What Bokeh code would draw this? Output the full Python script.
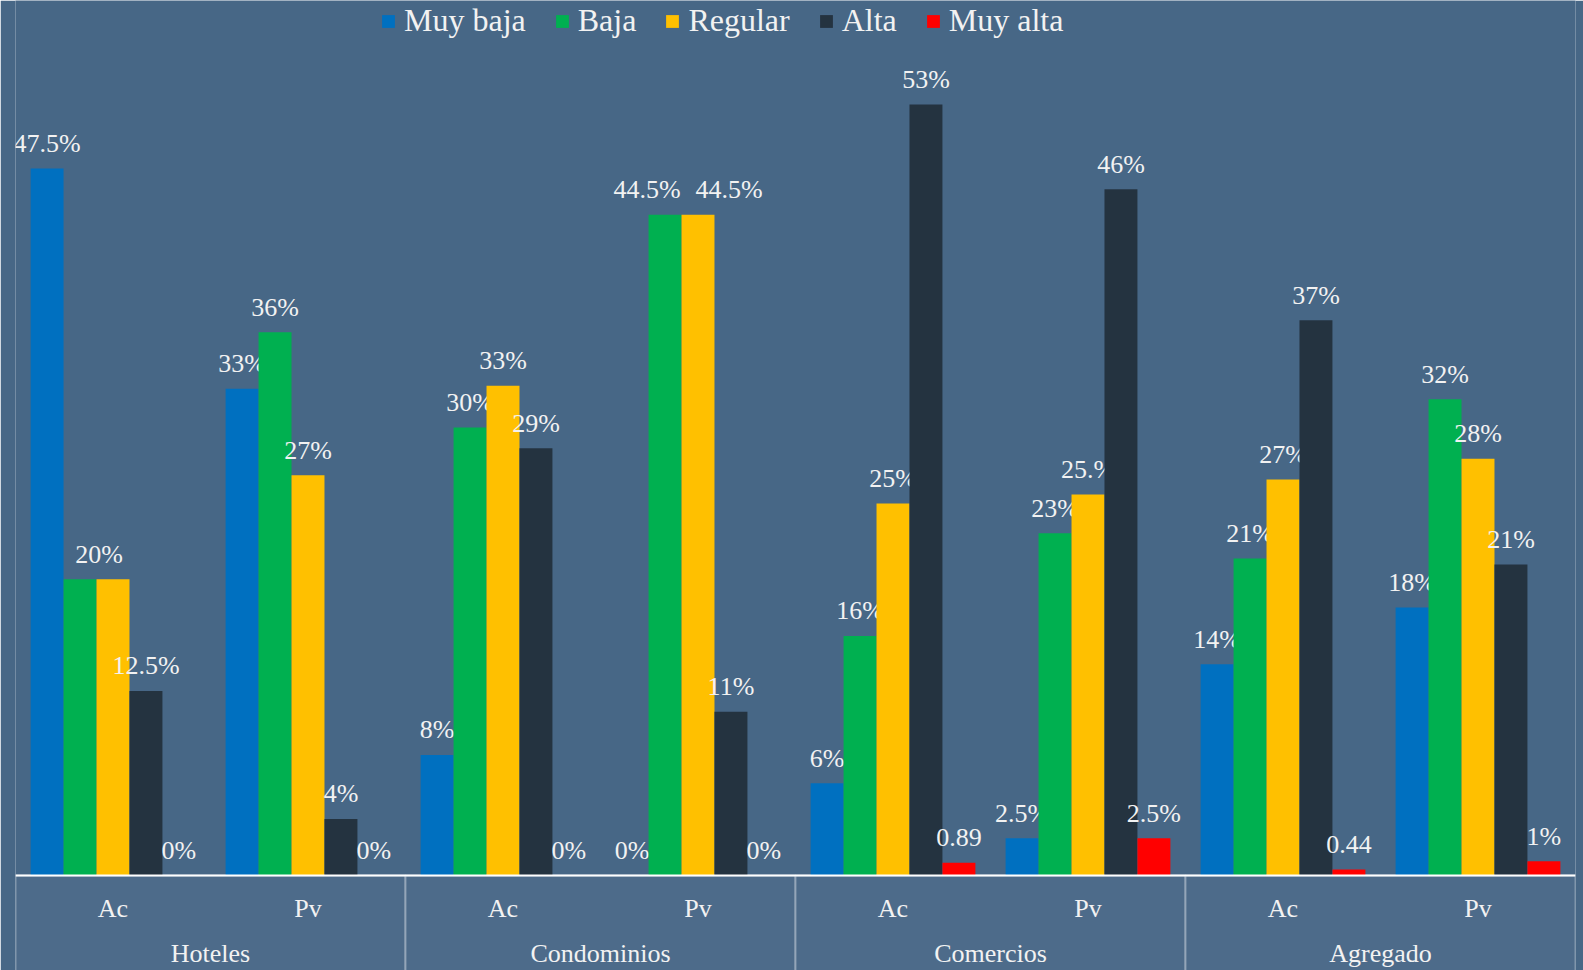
from bokeh.plotting import figure
from bokeh.models import FactorRange, Range1d, ColumnDataSource, BoxAnnotation
from bokeh.transform import dodge
from bokeh.core.properties import value
from bokeh.embed import file_html
from bokeh.resources import INLINE

groups = ["Hoteles", "Condominios", "Comercios", "Agregado"]
subs = ["Ac", "Pv"]
series = ["Muy baja", "Baja", "Regular", "Alta", "Muy alta"]
colors = ["#0070C0", "#00B050", "#FFC000", "#243340", "#FF0000"]

# values per series, order: Hoteles Ac, Hoteles Pv, Condominios Ac, Condominios Pv,
# Comercios Ac, Comercios Pv, Agregado Ac, Agregado Pv
muy_baja = [47.5, 32.7, 8.1, 0, 6.2, 2.5, 14.2, 18.0]
baja = [19.9, 36.5, 30.1, 44.4, 16.1, 23.0, 21.3, 32.0]
regular = [19.9, 26.9, 32.9, 44.4, 25.0, 25.6, 26.6, 28.0]
alta = [12.4, 3.8, 28.7, 11.0, 51.8, 46.1, 37.3, 20.9]
muy_alta = [0, 0, 0, 0, 0.85, 2.5, 0.4, 0.95]

lbl_muy_baja = ["47.5%", "33%", "8%", "0%", "6%", "2.5%", "14%", "18%"]
lbl_baja = ["20%", "36%", "30%", "44.5%", "16%", "23%", "21%", "32%"]
lbl_regular = ["", "27%", "33%", "44.5%", "25%", "25.%", "27%", "28%"]
lbl_alta = ["12.5%", "4%", "29%", "11%", "53%", "46%", "37%", "21%"]
lbl_muy_alta = ["0%", "0%", "0%", "0%", "0.89", "2.5%", "0.44", "1%"]

values = [muy_baja, baja, regular, alta, muy_alta]
labels = [lbl_muy_baja, lbl_baja, lbl_regular, lbl_alta, lbl_muy_alta]

# label nudges (pixels) to keep overlapping labels apart, as in the original
nudges = {(1, 0): 19, (1, 3): -18, (2, 3): 31}

BG = "#476786"
AXBG = "#4D6B8A"
FONT = "Liberation Serif"
TXT = "#F2F2F2"

factors = [(g, s) for g in groups for s in subs]

W, H = 1583, 970
p = figure(
    x_range=FactorRange(*factors, range_padding=0, group_padding=0, factor_padding=0),
    y_range=Range1d(-6.383, 58.79),
    width=W, height=H,
    output_backend="svg", toolbar_location=None,
    min_border_left=15, min_border_right=8, min_border_top=0, min_border_bottom=0,
)
p.background_fill_color = BG
p.border_fill_color = BG
p.outline_line_color = None
p.xgrid.visible = False
p.ygrid.visible = False
p.yaxis.visible = False

# axis area boxes under the baseline
for i, g in enumerate(groups):
    p.add_layout(BoxAnnotation(left=i * 2, right=(i + 1) * 2, top=0, bottom=-10,
                               fill_color=AXBG, fill_alpha=1.0,
                               line_color="white", line_width=2, level="underlay"))

w = 0.169
offsets = [-2 * w, -w, 0, w, 2 * w]
for k, name in enumerate(series):
    src = ColumnDataSource(dict(
        x=factors,
        val=values[k],
        lbl=labels[k],
        xoff=[nudges.get((k, j), 0) for j in range(len(factors))],
    ))
    p.vbar(x=dodge("x", offsets[k], range=p.x_range), top="val", width=w, source=src,
           fill_color=colors[k], line_color=None, legend_label=name)
    p.text(x=dodge("x", offsets[k], range=p.x_range), y="val", text="lbl", source=src,
           x_offset="xoff", y_offset=-25,
           text_font=value(FONT), text_font_size="26px", text_color=TXT,
           text_align="center", text_baseline="alphabetic")

ax = p.xaxis[0]
ax.fixed_location = 0
ax.axis_line_color = "white"
ax.axis_line_width = 2
ax.major_tick_line_color = None
ax.minor_tick_line_color = None
ax.major_label_text_font = FONT
ax.major_label_text_font_size = "26px"
ax.major_label_text_color = TXT
ax.major_label_standoff = 13
ax.group_text_font = FONT
ax.group_text_font_size = "26px"
ax.group_text_font_style = "normal"
ax.group_text_color = TXT
ax.separator_line_color = None

lg = p.legend[0]
lg.orientation = "horizontal"
lg.location = (365, H - 39)
lg.background_fill_alpha = 0
lg.border_line_color = None
lg.padding = 0
lg.margin = 0
lg.spacing = 28
lg.label_standoff = 8
lg.glyph_width = 16
lg.glyph_height = 16
lg.label_text_font = FONT
lg.label_text_font_size = "32px"
lg.label_text_color = TXT

open("out.html", "w").write(file_html(p, INLINE))
